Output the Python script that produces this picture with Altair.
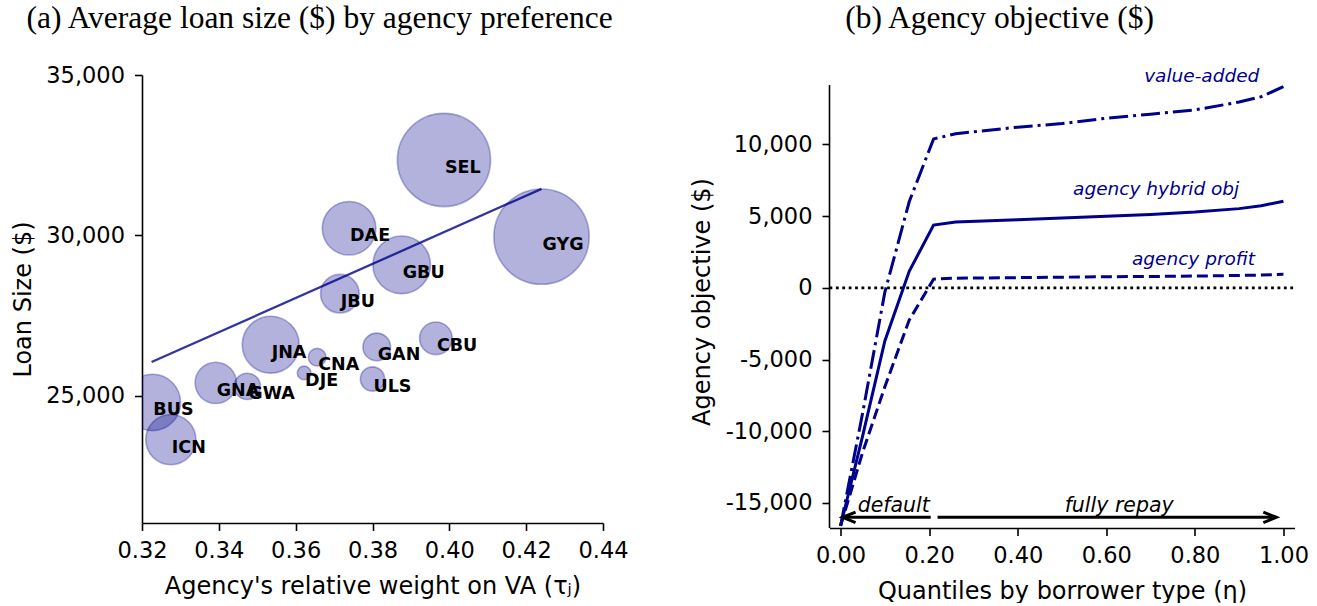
import altair as alt
import pandas as pd

# ---------------- Panel (a) data ----------------
agencies = ["SEL", "GYG", "DAE", "GBU", "JBU", "JNA", "CNA", "DJE",
            "GAN", "CBU", "ULS", "GNA", "GWA", "BUS", "ICN"]
tau = [0.3986, 0.4240, 0.3739, 0.3876, 0.3715, 0.3535, 0.3656, 0.3622,
       0.3811, 0.3965, 0.3800, 0.3392, 0.3474, 0.3227, 0.3275]
loan_size = [32350, 29960, 30220, 29080, 28180, 26590, 26200, 25710,
             26520, 26790, 25520, 25400, 25290, 24790, 23630]
bubble_area = [8690, 9090, 2870, 3320, 1490, 3240, 314, 186,
               765, 1064, 590, 1706, 688, 3180, 2516]
fit_tau = [0.3225, 0.4240]
fit_loan = [26050, 31450]
x_ticks_a = [0.32, 0.34, 0.36, 0.38, 0.40, 0.42, 0.44]
y_ticks_a = [25000, 30000, 35000]

# ---------------- Panel (b) data ----------------
eta = [0.0, 0.05, 0.10, 0.155, 0.21, 0.26, 0.40, 0.50, 0.60, 0.70, 0.80, 0.90, 0.95, 1.0]
value_added = [-16600, -8700, -300, 6000, 10380, 10740, 11200, 11450, 11820, 12100, 12400, 12950, 13320, 14030]
hybrid_obj = [-16600, -10300, -3700, 1150, 4370, 4580, 4750, 4860, 4980, 5110, 5280, 5520, 5720, 6040]
agency_profit = [-16600, -11450, -6900, -2250, 600, 670, 710, 740, 770, 790, 820, 860, 890, 950]
x_ticks_b = [0.0, 0.2, 0.4, 0.6, 0.8, 1.0]
y_ticks_b = [-15000, -10000, -5000, 0, 5000, 10000]

curve_label_text = ["value-added", "agency hybrid obj", "agency profit"]
curve_label_x = [0.6855, 0.525, 0.658]
curve_label_y = [14740, 6900, 1990]

zero_x = [-0.025, 1.025]
zero_y = [0, 0]

# left spine of panel (b): x position and vertical extent (data units)
spine_x = [-0.025]
spine_y0 = [-16744]
spine_y1 = [14137]

arrow_start = [0.2036, 0.219]
arrow_end = [0.0045, 0.984]
arrow_y = [-16000, -16000]
arrow_text = ["default", "fully repay"]
arrow_text_x = [0.12, 0.629]
arrow_text_y = [-15650, -15650]

DARKBLUE = "#00008b"
SANS = "DejaVu Sans"
SERIF = "Liberation Serif"

# ---------------- Panel (a) ----------------
df_a = pd.DataFrame({"agency": agencies, "tau": tau, "loan": loan_size, "area": bubble_area})
df_fit = pd.DataFrame({"tau": fit_tau, "loan": fit_loan})

xa = alt.X("tau:Q",
           scale=alt.Scale(domain=[0.32, 0.44], nice=False, zero=False),
           axis=alt.Axis(values=x_ticks_a, format=".2f", labelFlush=False,
                         title="Agency's relative weight on VA (τⱼ)"))
ya = alt.Y("loan:Q",
           scale=alt.Scale(domain=[21030, 35000], nice=False, zero=False),
           axis=alt.Axis(values=y_ticks_a, labelExpr="format(datum.value, ',')",
                         labelFlush=False, title="Loan Size ($)"))

bubbles = alt.Chart(df_a).mark_circle(
    fill=DARKBLUE, fillOpacity=0.3, stroke=DARKBLUE, strokeOpacity=0.3,
    strokeWidth=1.6, clip=True, opacity=1
).encode(
    x=xa, y=ya,
    size=alt.Size("area:Q", scale=alt.Scale(domain=[0, 10000], range=[0, 10000]), legend=None),
)
fit_line = alt.Chart(df_fit).mark_line(color=DARKBLUE, opacity=0.8, strokeWidth=2.3).encode(
    x=xa, y=ya)
labels_a = alt.Chart(df_a).mark_text(
    align="left", baseline="middle", dx=1, dy=8, fontSize=17.5,
    fontWeight="bold", font=SANS, color="black"
).encode(x=xa, y=ya, text="agency:N")

panel_a = alt.layer(bubbles, fit_line, labels_a).properties(
    width=461, height=448,
    title=alt.TitleParams("(a) Average loan size ($) by agency preference",
                          font=SERIF, fontSize=31.5, fontWeight="normal",
                          anchor="middle", frame="bounds", offset=30, color="black"),
)

# ---------------- Panel (b) ----------------
series_frames = []
for name, vals in [("value-added", value_added), ("hybrid", hybrid_obj), ("profit", agency_profit)]:
    series_frames.append(pd.DataFrame({"eta": eta, "value": vals, "series": name}))
df_b = pd.concat(series_frames, ignore_index=True)

xb = alt.X("eta:Q",
           scale=alt.Scale(domain=[-0.025, 1.025], nice=False, zero=False),
           axis=alt.Axis(values=x_ticks_b, format=".2f", labelFlush=False,
                         title="Quantiles by borrower type (η)"))
yb = alt.Y("value:Q",
           scale=alt.Scale(domain=[-16744, 14835], nice=False, zero=False),
           axis=alt.Axis(values=y_ticks_b, domain=False, labelFlush=False,
                         labelExpr="replace(format(datum.value, ','), '\u2212', '-')",
                         title="Agency objective ($)"))

df_zero = pd.DataFrame({"eta": zero_x, "value": zero_y})
zero_line = alt.Chart(df_zero).mark_line(color="black", strokeDash=[2.8, 3.6], strokeWidth=2.8).encode(
    x=xb, y=yb)

df_spine = pd.DataFrame({"eta": spine_x, "y0": spine_y0, "y1": spine_y1})
spine = alt.Chart(df_spine).mark_rule(color="black", strokeWidth=1.6).encode(
    x=xb, y="y0:Q", y2="y1:Q")

line_va = alt.Chart(df_b[df_b.series == "value-added"]).mark_line(
    color=DARKBLUE, strokeWidth=3, strokeDash=[19, 5, 3, 5]).encode(x=xb, y=yb)
line_hy = alt.Chart(df_b[df_b.series == "hybrid"]).mark_line(
    color=DARKBLUE, strokeWidth=3).encode(x=xb, y=yb)
line_pr = alt.Chart(df_b[df_b.series == "profit"]).mark_line(
    color=DARKBLUE, strokeWidth=3, strokeDash=[11, 5]).encode(x=xb, y=yb)

df_cl = pd.DataFrame({"x": curve_label_x, "y": curve_label_y, "t": curve_label_text})
curve_labels = alt.Chart(df_cl).mark_text(
    align="left", baseline="middle", fontSize=18.5, fontStyle="italic",
    font=SANS, color=DARKBLUE
).encode(x="x:Q", y="y:Q", text="t:N")

df_arr = pd.DataFrame({"x0": arrow_start, "x1": arrow_end, "y": arrow_y})
arrow_lines = alt.Chart(df_arr).mark_rule(color="black", strokeWidth=3).encode(
    x="x0:Q", x2="x1:Q", y="y:Q")
head_left = alt.Chart(df_arr.iloc[[0]]).mark_point(
    shape="M 2 -0.8 L 0 0 L 2 0.8", size=169, filled=False, stroke="black",
    strokeWidth=3, opacity=1).encode(x="x1:Q", y="y:Q")
head_right = alt.Chart(df_arr.iloc[[1]]).mark_point(
    shape="M -2 -0.8 L 0 0 L -2 0.8", size=169, filled=False, stroke="black",
    strokeWidth=3, opacity=1).encode(x="x1:Q", y="y:Q")

df_at = pd.DataFrame({"x": arrow_text_x, "y": arrow_text_y, "t": arrow_text})
arrow_labels = alt.Chart(df_at).mark_text(
    align="center", baseline="alphabetic", fontSize=20.5, fontStyle="italic",
    font=SANS, color="black"
).encode(x="x:Q", y="y:Q", text="t:N")

panel_b = alt.layer(zero_line, spine, line_va, line_hy, line_pr, curve_labels,
                    arrow_lines, head_left, head_right, arrow_labels).properties(
    width=465, height=453,
    title=alt.TitleParams("(b) Agency objective ($)",
                          font=SERIF, fontSize=31.5, fontWeight="normal",
                          anchor="middle", frame="bounds", offset=33, color="black"),
)

chart = alt.hconcat(panel_a, panel_b, spacing=61.5).properties(
    padding={"left": 11, "top": 2, "right": 0, "bottom": 0}
).configure_view(stroke=None).configure_axis(
    grid=False, domainColor="black", domainWidth=1.6, tickColor="black",
    tickWidth=1.6, tickSize=7.5, labelFont=SANS, labelFontSize=22.5,
    labelColor="black", titleFont=SANS, titleFontSize=24,
    titleFontWeight="normal", titleColor="black",
).configure_axisX(titlePadding=12, labelPadding=9).configure_axisY(titlePadding=10.5, labelPadding=10)

chart.save("out.html", embed_options={"renderer": "svg", "actions": False})
